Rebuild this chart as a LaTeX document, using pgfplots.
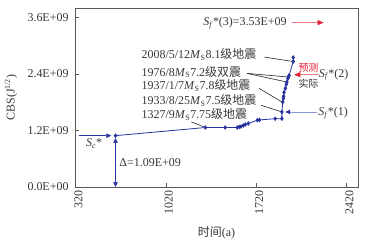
\documentclass[border=0pt]{standalone}
\usepackage{pgfplots}
\pgfplotsset{compat=1.18}
\usepackage{fontspec}
\setmainfont{Liberation Serif}
\newfontfamily\cjk{Noto Sans CJK SC}
\usetikzlibrary{arrows.meta}
\definecolor{ser}{RGB}{40,50,160}
\definecolor{txt}{RGB}{55,55,55}
\definecolor{frame}{RGB}{90,90,90}
\definecolor{lblue}{RGB}{140,150,215}
\definecolor{pk}{RGB}{240,120,130}
\definecolor{rd}{RGB}{230,30,50}
\newcommand\fs{\fontsize{12}{13}\selectfont}
\newcommand\Ms{\textit{M}\textsubscript{S}}
\newcommand\Sf{\textit{S}\textsubscript{\textit{f}}*}
\begin{document}
\begin{tikzpicture}
\begin{axis}[
 scale only axis, width=283bp, height=179bp,
 xmin=316, xmax=2510, ymin=0, ymax=3.8e9,
 axis line style={frame, line width=0.8pt},
 tick align=inside, tick pos=left,
 xtick={320,1020,1720,2420}, xticklabels={320,1020,1720,2420},
 ytick={0,1.2e9,2.4e9,3.6e9}, yticklabels={0.0E+00,1.2E+09,2.4E+09,3.6E+09},
 scaled ticks=false,
 tick style={frame, line width=0.6pt}, major tick length=4pt,
 xticklabel style={rotate=90, anchor=east, font=\fs, text=txt, yshift=-3bp},
 yticklabel style={font=\fs, text=txt, xshift=-3pt},
 xlabel={{\cjk 时间}(a)}, ylabel={CBS(J\textsuperscript{1/2})},
 label style={font=\fs, text=txt},
 xlabel style={at={(axis description cs:0.5,-0.255)}, anchor=center},
 ylabel style={at={(axis description cs:-0.226,0.5)}, anchor=center},
 clip=false,
]
\addplot[ser, line width=0.8pt, mark=diamond*, mark size=1.7pt, mark options={solid, fill=ser}] table {
x y
630 1.09e9
1327 1.263e9
1480 1.263e9
1574 1.263e9
1590 1.276e9
1603 1.284e9
1621 1.306e9
1637 1.327e9
1660 1.348e9
1730 1.418e9
1746 1.424e9
1868 1.45e9
1920 1.45e9
1920 1.593e9
1927 1.805e9
1932 1.88e9
1933 1.925e9
1937 2.01e9
1947 2.095e9
1954 2.18e9
1959 2.228e9
1966 2.30e9
1970 2.334e9
1976 2.37e9
2008 2.666e9
2008 2.75e9
};
\coordinate (BL) at (rel axis cs:0,0);
\coordinate (TR) at (rel axis cs:1,1);
% leader lines
\draw[black!85, line width=0.6pt] (1785,2.757e9) -- (2003,2.666e9);
\draw[black!85, line width=0.6pt] (1650,2.412e9) -- (1972,2.334e9);
\draw[black!85, line width=0.6pt] (1650,2.412e9) -- (1959,2.228e9);
\draw[black!85, line width=0.6pt] (1743,2.095e9) -- (1920,1.805e9);
\draw[black!85, line width=0.6pt] (1759,1.735e9) -- (1920,1.593e9);
\draw[black!85, line width=0.6pt] (1218,1.382e9) -- (1320,1.27e9);
% labels
\begin{scope}[every node/.style={font=\fs, text=txt, inner sep=0pt, anchor=west}]
\node at (831,2.814e9) {2008/5/12\Ms8.1{\cjk 级地震}};
\node at (831,2.44e9) {1976/8\Ms7.2{\cjk 级双震}};
\node at (831,2.158e9) {1937/1/7\Ms7.8{\cjk 级地震}};
\node at (831,1.84e9) {1933/8/25\Ms7.5{\cjk 级地震}};
\node at (831,1.545e9) {1327/9\Ms7.75{\cjk 级地震}};
\node at (659,5.08e8) {Δ=1.09E+09};
\node[anchor=center] at (464,9.2e8) {\textit{S}\textsubscript{\textit{c}}*};
\node[anchor=center] at (2317,1.56e9) {\Sf(1)};
\node[anchor=center] at (2321,2.385e9) {\Sf(2)};
\node[anchor=center] at (1634,3.476e9) {\Sf(3)=3.53E+09};
\node[anchor=center, text=rd, font=\cjk\fontsize{10}{11}\selectfont] at (2126,2.53e9) {预测};
\node[anchor=center, font=\cjk\fontsize{10}{11}\selectfont] at (2126,2.19e9) {实际};
\end{scope}
% arrows
\draw[ser, line width=0.7pt, -{Triangle[length=5pt,width=4.5pt]}] (347,1.09e9) -- (597,1.09e9);
\draw[ser, line width=0.7pt, {Triangle[length=5pt,width=4.5pt]}-{Triangle[length=5pt,width=4.5pt]}] (630,0) -- (630,1.04e9);
\draw[lblue, line width=0.8pt, -{Triangle[length=5pt,width=4.5pt,color=ser]}] (2196,1.593e9) -- (1946,1.593e9);
\draw[pk, line width=0.8pt, -{Triangle[length=6pt,width=5pt,color=rd]}] (2204,2.385e9) -- (2016,2.385e9);
\draw[pk, line width=0.8pt, -{Triangle[length=6pt,width=5pt,color=rd]}] (2001,3.49e9) -- (2243,3.49e9);
\end{axis}
\pgfresetboundingbox
\path ([shift={(-75bp,-54bp)}]BL) rectangle ([shift={(14bp,8bp)}]TR);
\end{tikzpicture}
\end{document}
